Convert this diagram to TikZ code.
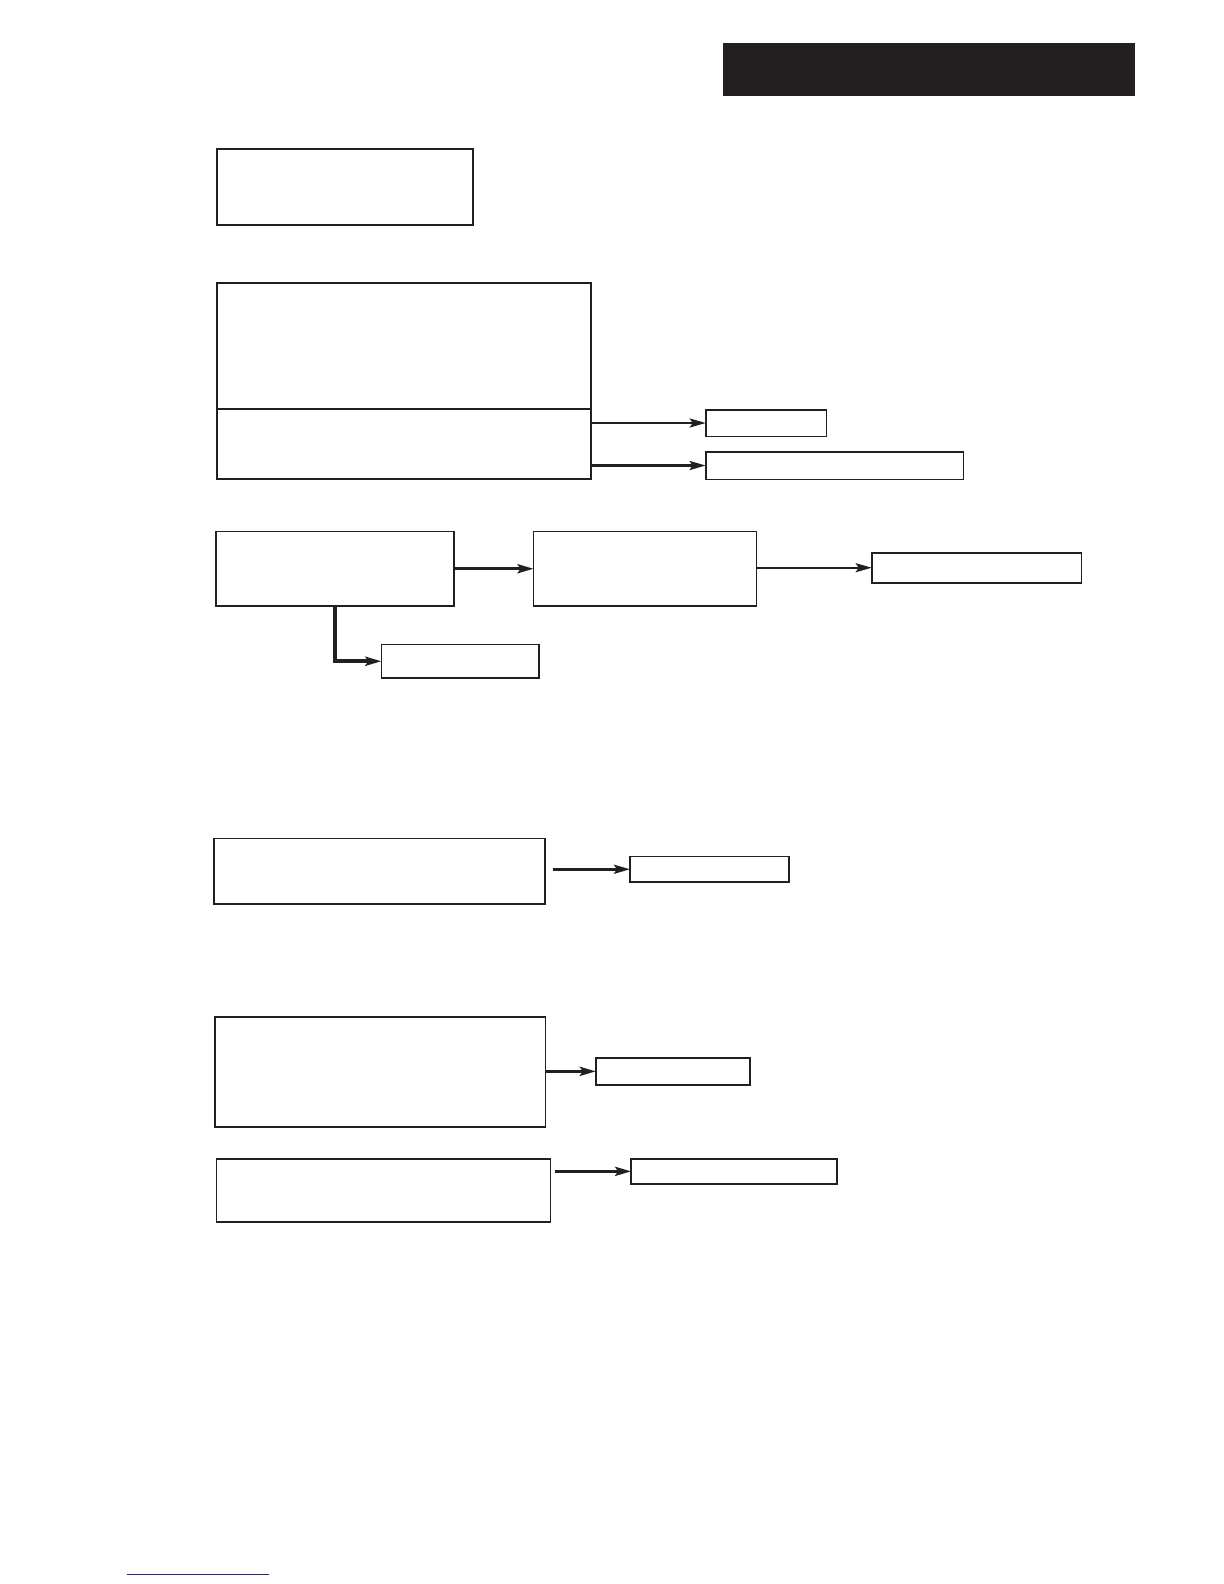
\documentclass[tikz,border=0pt]{standalone}
\usetikzlibrary{arrows.meta}
\definecolor{ink}{HTML}{231F20}
\definecolor{linkblue}{RGB}{35,35,150}
\tikzset{
  box/.style={draw=ink, line width=0.8bp, rectangle, inner sep=0pt, outer sep=0pt, fill=white},
  arr/.style={draw=ink, line width=#1, -{Stealth[length=8bp,width=4.5bp,inset=1.5bp]}},
  arr/.default=1.2bp,
  divider/.style={draw=ink, line width=1.2bp}
}
\begin{document}
\begin{tikzpicture}[x=0.5bp,y=-0.5bp]
\useasboundingbox (0,0) rectangle (1224,1584);
% header bar
\node[fill=ink, draw=none, inner sep=0pt, minimum width=206bp, minimum height=26.5bp] (header) at (929,69.5) {};
% boxes
\node[box, minimum width=127.7bp, minimum height=38bp] (A) at (345,186.7) {};
\node[box, minimum width=186.7bp, minimum height=98.15bp] (B) at (404,380.85) {};
\coordinate (dv) at (0,408.7);
\draw[divider] (B.west |- dv) -- (B.east |- dv);
\node[box, minimum width=60.3bp, minimum height=13.3bp] (C1) at (766,423) {};
\node[box, minimum width=128.8bp, minimum height=13.8bp] (C2) at (834.5,465.5) {};
\node[box, minimum width=119.1bp, minimum height=37.25bp] (D) at (334.85,568.75) {};
\node[box, minimum width=111.4bp, minimum height=37.25bp] (E) at (645,568.75) {};
\node[box, minimum width=78.75bp, minimum height=16.75bp] (F) at (460.15,661.25) {};
\node[box, minimum width=104.8bp, minimum height=15bp] (G) at (976.5,567.7) {};
\node[box, minimum width=165.6bp, minimum height=32.75bp] (H) at (379.6,871.25) {};
\node[box, minimum width=79.4bp, minimum height=12.75bp] (I) at (709.4,869.25) {};
\node[box, minimum width=165.25bp, minimum height=55bp] (J) at (380.15,1072) {};
\node[box, minimum width=77.15bp, minimum height=13.65bp] (K) at (673.05,1071.35) {};
\node[box, minimum width=167.1bp, minimum height=31.5bp] (L) at (383.5,1190.5) {};
\node[box, minimum width=103bp, minimum height=12.35bp] (M) at (734.2,1171.35) {};
% connectors
\draw[arr=1bp] (B.east |- C1.west) -- (C1.west);
\draw[arr=1.4bp] (B.east |- C2.west) -- (C2.west);
\draw[arr=1.6bp] (D.east) -- (E.west);
\draw[arr=1bp] (E.east |- G.west) -- (G.west);
\draw[arr=1.8bp, line join=miter] (D.south) |- (F.west);
\draw[arr=1.4bp] ([xshift=4bp]H.east |- I.west) -- (I.west);
\draw[arr=1.6bp] (J.east |- K.west) -- (K.west);
\draw[arr=1.6bp] ([xshift=2bp]L.east |- M.west) -- (M.west);
% bottom link underline
\draw[linkblue, line width=0.6bp] (127.3,1574.7) -- (269,1574.7);
\end{tikzpicture}
\end{document}
